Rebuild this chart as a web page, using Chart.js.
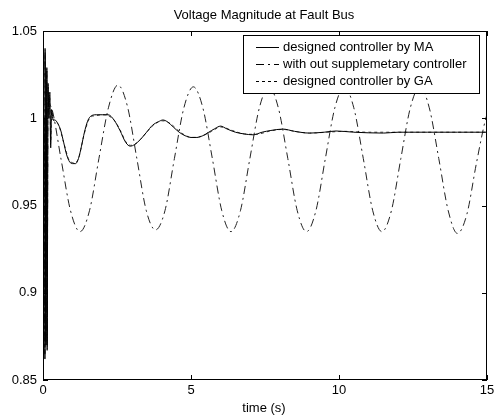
<!DOCTYPE html>
<html>
<head>
<meta charset="utf-8">
<script src="https://cdn.jsdelivr.net/npm/chart.js@4.4.0/dist/chart.umd.min.js"></script>
<style>
  body { margin: 0; background: #fff; }
  #wrap { width: 494px; height: 418px; }
</style>
</head>
<body>
<div id="wrap"><canvas id="myChart"></canvas></div>
<script>
// Values: time (s) and voltage magnitude (pu)

var seriesLabels = ['designed controller by MA', 'with out supplemetary controller', 'designed controller by GA'];

// designed controller by MA (solid)
var tMA = [0, 0.06, 0.065, 0.07, 0.1, 0.13, 0.14, 0.17, 0.2, 0.23, 0.26, 0.29, 0.34, 0.4, 0.5, 0.6, 0.7, 0.8, 0.9,
  1.0, 1.1, 1.2, 1.3, 1.4, 1.5, 1.6, 1.8, 2.0, 2.2, 2.4, 2.6, 2.8, 2.95, 3.1, 3.3, 3.5, 3.7, 3.9, 4.05,
  4.2, 4.4, 4.6, 4.8, 5.0, 5.2, 5.4, 5.6, 5.8, 6.0, 6.2, 6.5, 6.8, 7.1, 7.4, 7.7, 8.1, 8.5, 9.0, 9.5,
  9.9, 10.5, 11.5, 12, 13, 14, 15];
var vMA = [1.0, 1.0, 0.862, 1.04, 0.87, 1.029, 0.867, 1.02, 1.0, 1.015, 0.983, 1.005, 0.999, 0.999, 0.997, 0.993, 0.986, 0.979, 0.975,
  0.974, 0.974, 0.977, 0.984, 0.992, 0.998, 1.001, 1.002, 1.002, 1.002, 0.999, 0.993, 0.986, 0.984, 0.985, 0.988, 0.992, 0.996, 0.998, 0.999,
  0.998, 0.995, 0.992, 0.990, 0.989, 0.989, 0.990, 0.992, 0.994, 0.9955, 0.994, 0.992, 0.991, 0.9905, 0.992, 0.993, 0.9938, 0.9925, 0.9915, 0.992,
  0.9927, 0.992, 0.9915, 0.992, 0.992, 0.992, 0.992];

// with out supplemetary controller (dash-dot)
var tNo = [0, 0.06, 0.065, 0.07, 0.1, 0.13, 0.14, 0.17, 0.2, 0.29, 0.61, 0.93, 1.25, 1.57, 1.89, 2.21, 2.53, 2.85, 3.17, 3.49, 3.8,
  4.12, 4.44, 4.76, 5.08, 5.4, 5.72, 6.04, 6.35, 6.67, 6.99, 7.31, 7.63, 7.95, 8.27, 8.59, 8.9, 9.22, 9.54, 9.86, 10.18,
  10.5, 10.82, 11.14, 11.45, 11.77, 12.09, 12.41, 12.73, 13.05, 13.37, 13.69, 14.0, 14.32, 14.64, 14.96, 15];
var vNo = [1.0, 1.0, 0.865, 1.038, 0.872, 1.027, 0.87, 1.018, 1.01, 1.006, 0.9765, 0.947, 0.935, 0.947, 0.977, 1.006, 1.019, 1.007, 0.977, 0.947, 0.936,
  0.947, 0.977, 1.006, 1.018, 1.006, 0.977, 0.947, 0.935, 0.947, 0.977, 1.006, 1.018, 1.006, 0.977, 0.947, 0.935, 0.947, 0.977, 1.006, 1.018,
  1.006, 0.977, 0.947, 0.935, 0.947, 0.977, 1.006, 1.018, 1.006, 0.977, 0.947, 0.934, 0.945, 0.974, 1.0, 1.002];

// designed controller by GA (dotted)
var tGA = [0, 0.06, 0.065, 0.07, 0.1, 0.13, 0.14, 0.17, 0.2, 0.23, 0.26, 0.29, 0.35, 0.5, 0.7, 0.9, 1.05, 1.2, 1.4, 1.6, 1.8, 2.0,
  2.2, 2.4, 2.6, 2.8, 2.95, 3.1, 3.3, 3.5, 3.7, 3.9, 4.05, 4.3, 4.6, 4.9, 5.1, 5.4, 5.7, 6.0, 6.4, 6.8,
  7.2, 7.7, 8.1, 8.6, 9.0, 9.6, 10.2, 11, 12, 13, 14, 15];
var vGA = [1.0, 1.0, 0.868, 1.035, 0.875, 1.025, 0.872, 1.016, 1.0, 1.012, 0.986, 1.004, 0.999, 0.997, 0.986, 0.9755, 0.9745, 0.977, 0.9915, 1.0005, 1.0015, 1.002,
  1.0015, 0.999, 0.9935, 0.9865, 0.9845, 0.985, 0.988, 0.992, 0.9955, 0.998, 0.9985, 0.997, 0.9925, 0.9895, 0.989, 0.990, 0.9925, 0.995, 0.993, 0.991,
  0.9908, 0.9928, 0.9936, 0.9922, 0.9915, 0.992, 0.9925, 0.992, 0.992, 0.992, 0.992, 0.992];

var xTicks = [0, 5, 10, 15];
var xTickLabels = ['0', '5', '10', '15'];
var yTicks = [0.85, 0.9, 0.95, 1, 1.05];
var yTickLabels = ['0.85', '0.9', '0.95', '1', '1.05'];

function pairs(t, v) {
  return t.map(function (x, i) { return { x: x, y: v[i] }; });
}

var FONT = 'Arial, "Liberation Sans", sans-serif';

// MATLAB style frame: box, inward ticks on all sides, legend, title, x label
var matlabFrame = {
  id: 'matlabFrame',
  afterDatasetsDraw: function (chart) {
    var ctx = chart.ctx;
    var a = chart.chartArea;
    var xs = chart.scales.x, ys = chart.scales.y;
    ctx.save();
    ctx.strokeStyle = '#000';
    ctx.lineWidth = 1;
    ctx.strokeRect(a.left + 0.5, a.top + 0.5, a.right - a.left - 1, a.bottom - a.top - 1);
    ctx.beginPath();
    xTicks.forEach(function (v) {
      var px = Math.round(xs.getPixelForValue(v)) + 0.5;
      ctx.moveTo(px, a.bottom); ctx.lineTo(px, a.bottom - 5);
      ctx.moveTo(px, a.top); ctx.lineTo(px, a.top + 5);
    });
    yTicks.forEach(function (v) {
      var py = Math.round(ys.getPixelForValue(v)) + 0.5;
      ctx.moveTo(a.left, py); ctx.lineTo(a.left + 5, py);
      ctx.moveTo(a.right, py); ctx.lineTo(a.right - 5, py);
    });
    ctx.stroke();

    // legend box
    var lx = 243, ly = 35, lw = 236, lh = 58;
    ctx.fillStyle = '#fff';
    ctx.fillRect(lx, ly, lw, lh);
    ctx.strokeRect(lx + 0.5, ly + 0.5, lw, lh);
    ctx.font = '13px ' + FONT;
    ctx.textBaseline = 'middle';
    ctx.textAlign = 'left';
    chart.data.datasets.forEach(function (ds, i) {
      var y = ly + 12.5 + i * 17;
      ctx.setLineDash(ds.borderDash || []);
      ctx.strokeStyle = '#000';
      ctx.beginPath();
      ctx.moveTo(256, y); ctx.lineTo(279, y);
      ctx.stroke();
      ctx.setLineDash([]);
      ctx.fillStyle = '#000';
      ctx.fillText(ds.label, 283, y);
    });
    ctx.restore();
  },
  afterDraw: function (chart) {
    var ctx = chart.ctx;
    var a = chart.chartArea;
    var cx = (a.left + a.right) / 2;
    ctx.save();
    ctx.fillStyle = '#000';
    ctx.font = '13px ' + FONT;
    ctx.textAlign = 'center';
    ctx.textBaseline = 'middle';
    ctx.fillText('Voltage Magnitude at Fault Bus', cx - 1, 15);
    ctx.fillText('time (s)', cx - 1, 408);
    ctx.restore();
  }
};

var config = {
  type: 'line',
  data: {
    datasets: [{
      label: seriesLabels[0],
      data: pairs(tMA, vMA),
      borderColor: '#000',
      borderWidth: 1,
      pointRadius: 0,
      cubicInterpolationMode: 'monotone'
    }, {
      label: seriesLabels[1],
      data: pairs(tNo, vNo),
      borderColor: '#222',
      borderWidth: 1,
      borderDash: [8, 4, 2, 4],
      pointRadius: 0,
      cubicInterpolationMode: 'monotone'
    }, {
      label: seriesLabels[2],
      data: pairs(tGA, vGA),
      borderColor: '#444',
      borderWidth: 1,
      borderDash: [3, 3],
      pointRadius: 0,
      cubicInterpolationMode: 'monotone'
    }]
  },
  options: {
    responsive: true,
    maintainAspectRatio: false,
    animation: false,
    events: [],
    layout: {
      padding: { top: 31, right: 7, left: 0, bottom: 0 }
    },
    plugins: {
      legend: { display: false },
      title: { display: false },
      tooltip: { enabled: false }
    },
    scales: {
      x: {
        type: 'linear',
        min: 0,
        max: 15,
        grid: { display: false, drawTicks: false },
        border: { display: false },
        afterBuildTicks: function (axis) {
          axis.ticks = xTicks.map(function (v) { return { value: v }; });
        },
        afterFit: function (scale) {
          scale.height = 38;
          scale.paddingLeft = 0;
          scale.paddingRight = 0;
        },
        ticks: {
          color: '#000',
          font: { family: FONT, size: 13 },
          padding: 3,
          maxRotation: 0,
          autoSkip: false,
          callback: function (value, index) { return xTickLabels[index]; }
        }
      },
      y: {
        min: 0.85,
        max: 1.05,
        grid: { display: false, drawTicks: false },
        border: { display: false },
        afterBuildTicks: function (axis) {
          axis.ticks = yTicks.map(function (v) { return { value: v }; });
        },
        afterFit: function (scale) {
          scale.width = 43;
          scale.paddingTop = 0;
          scale.paddingBottom = 0;
        },
        ticks: {
          color: '#000',
          font: { family: FONT, size: 13 },
          padding: 6,
          autoSkip: false,
          callback: function (value, index) { return yTickLabels[index]; }
        }
      }
    }
  },
  plugins: [matlabFrame]
};

var myChart = new Chart(document.getElementById('myChart'), config);
</script>
</body>
</html>
